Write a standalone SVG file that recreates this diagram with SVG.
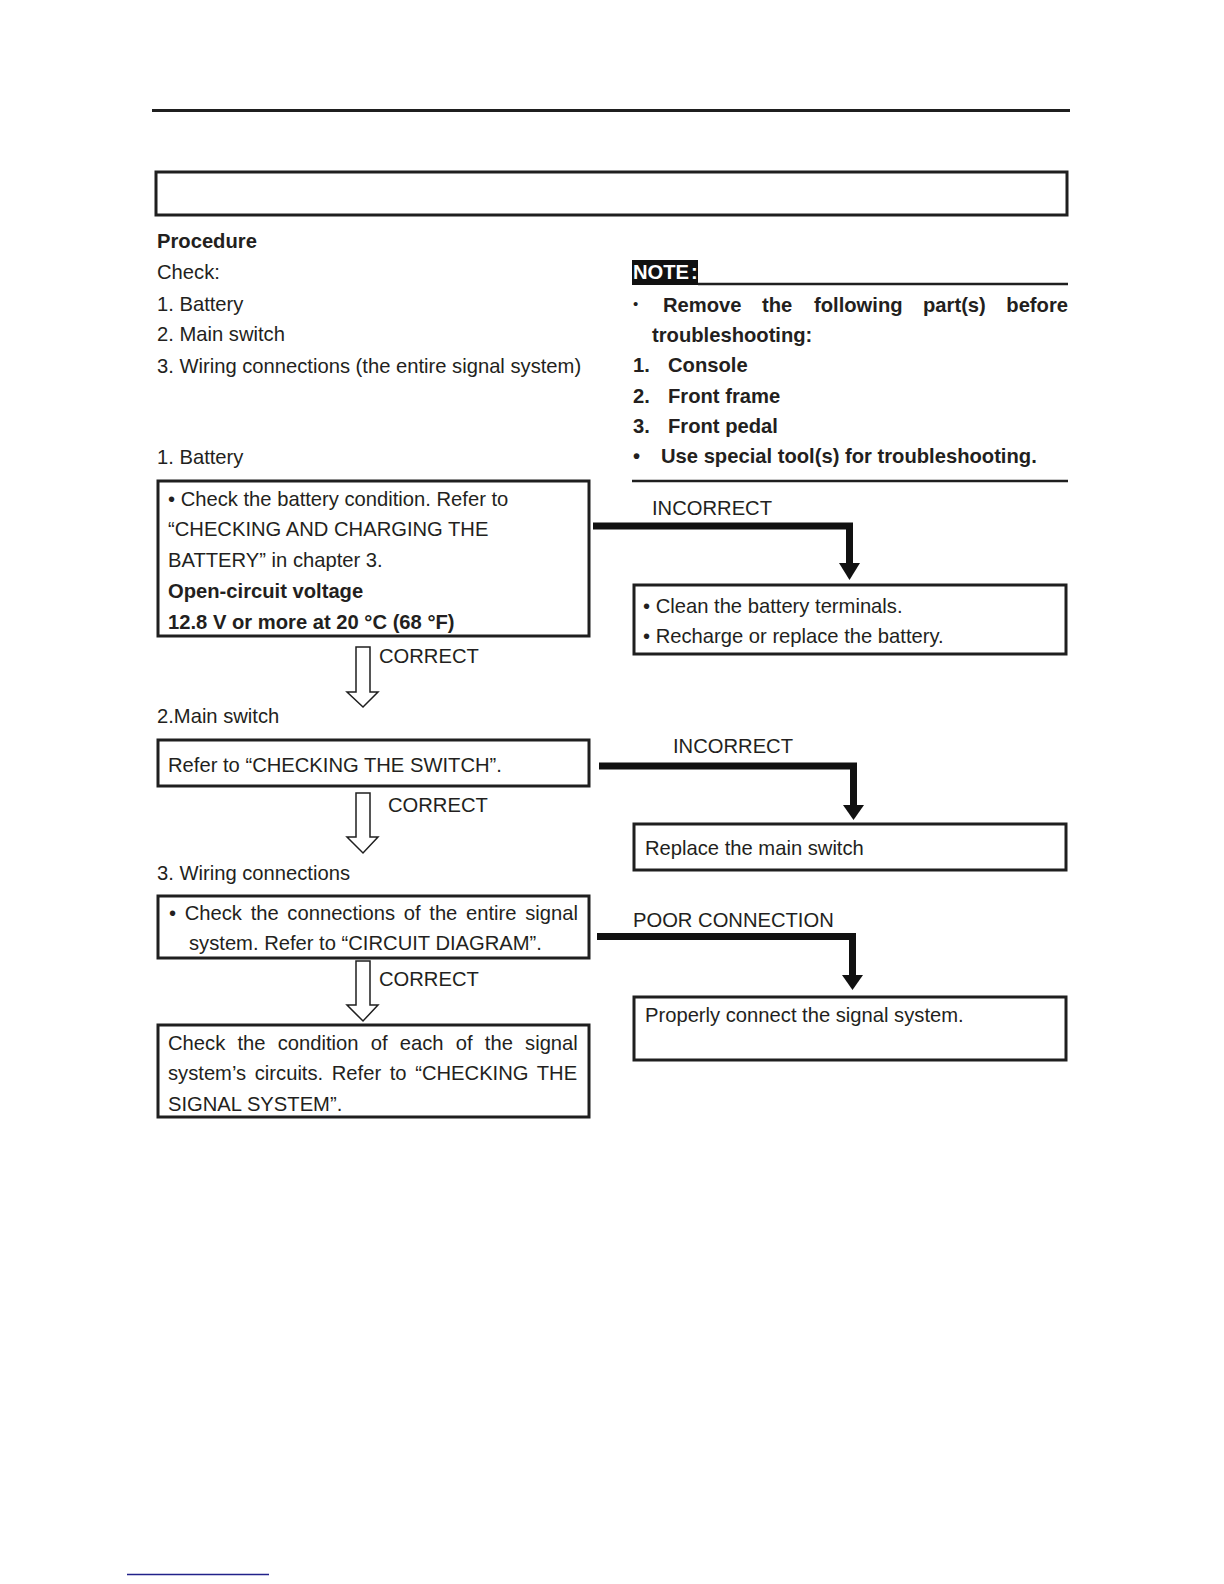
<svg xmlns="http://www.w3.org/2000/svg" width="1224" height="1584" viewBox="0 0 1224 1584">
<style>
text{font-family:"Liberation Sans",Arial,Helvetica,sans-serif;font-size:20.2px;fill:#231f20}
.b{font-weight:bold}
.box{fill:#fff;stroke:#1f1f1f;stroke-width:3}
.hollow{fill:#fff;stroke:#1f1f1f;stroke-width:1.5;stroke-linejoin:miter}
.thick{fill:none;stroke:#111;stroke-width:7}
.head{fill:#111}
.rule{stroke:#1f1f1f;stroke-width:3}
</style>
<rect width="1224" height="1584" fill="#fff"/>
<line class="rule" x1="152" y1="110.5" x2="1070" y2="110.5"/>
<rect class="box" x="156" y="172" width="911" height="43"/>

<g id="procedure">
<text class="b" x="157" y="248">Procedure</text>
<text x="157" y="279">Check:</text>
<text x="157" y="311">1. Battery</text>
<text x="157" y="341">2. Main switch</text>
<text x="157" y="373">3. Wiring connections (the entire signal system)</text>
</g>

<g id="note">
<rect x="632" y="260" width="66" height="25" fill="#111"/>
<text class="b" x="633" y="279" style="fill:#fff">NOTE<tspan dx="2">:</tspan></text>
<line x1="698" y1="284" x2="1068" y2="284" stroke="#1f1f1f" stroke-width="2.5"/>
<text x="633" y="309" style="font-size:15px">•</text>
<text class="b" x="663" y="312">Remove</text>
<text class="b" x="762" y="312">the</text>
<text class="b" x="814" y="312">following</text>
<text class="b" x="923" y="312">part(s)</text>
<text class="b" x="1068" y="312" text-anchor="end">before</text>
<text class="b" x="652" y="342">troubleshooting:</text>
<text class="b" x="633" y="372">1.</text><text class="b" x="668" y="372">Console</text>
<text class="b" x="633" y="403">2.</text><text class="b" x="668" y="403">Front frame</text>
<text class="b" x="633" y="433">3.</text><text class="b" x="668" y="433">Front pedal</text>
<text class="b" x="633" y="463">•</text><text class="b" x="661" y="463">Use special tool(s) for troubleshooting.</text>
<line x1="632" y1="481" x2="1068" y2="481" stroke="#1f1f1f" stroke-width="2.5"/>
</g>

<text x="157" y="464">1. Battery</text>
<g id="n-battery">
<rect class="box" x="158" y="481" width="431" height="155"/>
<text x="168" y="506">• Check the battery condition. Refer to</text>
<text x="168" y="536">“CHECKING AND CHARGING THE</text>
<text x="168" y="567">BATTERY” in chapter 3.</text>
<text class="b" x="168" y="598">Open-circuit voltage</text>
<text class="b" x="168" y="629">12.8 V or more at 20 °C (68 °F)</text>
</g>

<g id="n-battery-fix">
<rect class="box" x="634" y="585" width="432" height="69"/>
<text x="643" y="613">• Clean the battery terminals.</text>
<text x="643" y="643">• Recharge or replace the battery.</text>
</g>

<text x="157" y="723">2.Main switch</text>
<g id="n-switch">
<rect class="box" x="158" y="740" width="431" height="46"/>
<text x="168" y="772">Refer to “CHECKING THE SWITCH”.</text>
</g>

<g id="n-switch-fix">
<rect class="box" x="634" y="824" width="432" height="46"/>
<text x="645" y="855">Replace the main switch</text>
</g>

<text x="157" y="880">3. Wiring connections</text>
<g id="n-wiring">
<rect class="box" x="158" y="896" width="431" height="62"/>
<text x="169" y="920" style="word-spacing:3.06px">• Check the connections of the entire signal</text>
<text x="189" y="950">system. Refer to “CIRCUIT DIAGRAM”.</text>
</g>

<g id="n-wiring-fix">
<rect class="box" x="634" y="997" width="432" height="63"/>
<text x="645" y="1022">Properly connect the signal system.</text>
</g>

<g id="n-circuits">
<rect class="box" x="158" y="1025" width="431" height="92"/>
<text x="168" y="1050" style="word-spacing:6.6px">Check the condition of each of the signal</text>
<text x="168" y="1080" style="word-spacing:3.0px">system’s circuits. Refer to “CHECKING THE</text>
<text x="168" y="1111">SIGNAL SYSTEM”.</text>
</g>

<g id="connectors">
<polygon class="hollow" points="356,647 370,647 370,692 378,692 363,707 347,692 356,692"/>
<text x="379" y="663">CORRECT</text>
<polygon class="hollow" points="356,793 370,793 370,837 378,837 363,853 347,837 356,837"/>
<text x="388" y="812">CORRECT</text>
<polygon class="hollow" points="356,961 370,961 370,1005 378,1005 363,1021 347,1005 356,1005"/>
<text x="379" y="986">CORRECT</text>

<text x="652" y="515">INCORRECT</text>
<path class="thick" d="M593,526 H849.5 V564"/>
<polygon class="head" points="839,563 860,563 849.5,580"/>

<text x="673" y="753">INCORRECT</text>
<path class="thick" d="M599,766 H853.5 V806"/>
<polygon class="head" points="843,805 864,805 853.5,820"/>

<text x="633" y="927">POOR CONNECTION</text>
<path class="thick" d="M597,936.5 H852.5 V976"/>
<polygon class="head" points="842,975 863,975 852.5,990"/>
</g>

<line x1="127" y1="1574.5" x2="269" y2="1574.5" stroke="#22228a" stroke-width="1.5"/>
</svg>
